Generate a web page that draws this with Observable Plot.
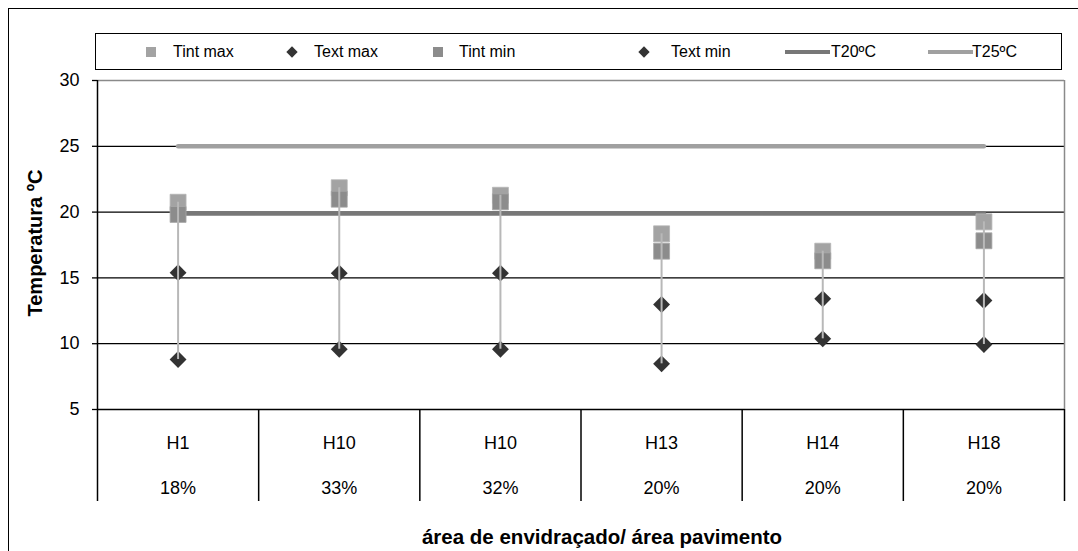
<!DOCTYPE html>
<html>
<head>
<meta charset="utf-8">
<script src="https://cdn.jsdelivr.net/npm/d3@7"></script>
<script src="https://cdn.jsdelivr.net/npm/@observablehq/plot@0.6"></script>
<style>
  html, body { margin: 0; padding: 0; background: #fff; overflow: hidden; }
  #wrap { position: relative; width: 1078px; height: 551px; overflow: hidden; font-family: "Liberation Sans", Arial, sans-serif; color: #000; }
  #wrap svg { position: absolute; left: 0; top: 0; }
  .outer { position: absolute; left: 8px; top: 8px; width: 1200px; height: 700px; border: 1.5px solid #000; box-sizing: border-box; }
  .legend { position: absolute; left: 95px; top: 33px; width: 967px; height: 37px; border: 1.5px solid #000; box-sizing: border-box; background: #fff; }
  .li { position: absolute; top: 0; height: 35px; display: flex; align-items: center; font-size: 16px; white-space: nowrap; }
  .sq { width: 10px; height: 10px; display: inline-block; }
  .dm { width: 8px; height: 8px; background: #333; transform: rotate(45deg); display: inline-block; }
  .ln { width: 45px; height: 4px; display: inline-block; }
  .ylab { position: absolute; left: 35px; top: 243px; transform: translate(-50%, -50%) rotate(-90deg); font-weight: bold; font-size: 20px; white-space: nowrap; }
  .xlab { position: absolute; left: 602px; top: 537px; transform: translate(-50%, -50%); font-weight: bold; font-size: 20.5px; white-space: nowrap; }
</style>
</head>
<body>
<div id="wrap">
  <div class="outer"></div>
</div>
<script>
// ---- data ----
const categories = ["H1", "H10", "H10", "H13", "H14", "H18"];
const ratios = ["18%", "33%", "32%", "20%", "20%", "20%"];
const tintMax = [20.75, 21.85, 21.28, 18.35, 17.03, 19.26];
const tintMin = [19.82, 20.98, 20.78, 17.03, 16.3, 17.82];
const textMax = [15.4, 15.36, 15.36, 12.98, 13.41, 13.28];
const textMin = [8.8, 9.58, 9.58, 8.47, 10.37, 9.94];
const t20 = [19.9, 19.9, 19.9, 19.9, 19.9, 19.9];
const t25 = [25, 25, 25, 25, 25, 25];
const yTicks = [5, 10, 15, 20, 25, 30];
const gridValues = [10, 15, 20, 25];

const seriesColors = { "Tint max": "#a3a3a3", "Text max": "#333333", "Tint min": "#8c8c8c", "Text min": "#333333", "T20ºC": "#777777", "T25ºC": "#a0a0a0" };

const rows = categories.map((c, i) => ({
  pos: i + 0.5, cat: c, ratio: ratios[i],
  tintMax: tintMax[i], tintMin: tintMin[i], textMax: textMax[i], textMin: textMin[i],
  t20: t20[i], t25: t25[i]
}));
const boundaries = d3.range(categories.length + 1);

const chart = Plot.plot({
  width: 1078,
  height: 551,
  marginLeft: 97,
  marginRight: 14,
  marginTop: 80,
  marginBottom: 142,
  style: { fontFamily: "'Liberation Sans', Arial, sans-serif", fontSize: "18px", background: "transparent", color: "#000" },
  x: { type: "linear", domain: [0, categories.length] },
  y: { domain: [5, 30] },
  marks: [
    Plot.ruleY(gridValues, { stroke: "#000", strokeWidth: 1.3 }),
    Plot.ruleY([30], { stroke: "#8a8a8a", strokeWidth: 1.5 }),
    Plot.ruleX([categories.length], { stroke: "#8a8a8a", strokeWidth: 1.5 }),
    Plot.axisY({ ticks: yTicks, tickSize: 5, tickPadding: 13, stroke: "#000", strokeWidth: 1.3, label: null, fontSize: 18 }),
    Plot.ruleX([0], { stroke: "#000", strokeWidth: 1.5 }),
    Plot.axisX({ ticks: boundaries, tickSize: 92, tickFormat: () => "", stroke: "#000", strokeWidth: 1.5, label: null }),
    Plot.axisX({ ticks: rows.map(d => d.pos), tickSize: 0, tickPadding: 27, tickFormat: (d) => categories[Math.floor(d)], label: null, fontSize: 18 }),
    Plot.axisX({ ticks: rows.map(d => d.pos), tickSize: 0, tickPadding: 72, tickFormat: (d) => ratios[Math.floor(d)], label: null, fontSize: 18 }),
    Plot.ruleY([5], { stroke: "#000", strokeWidth: 1.5 }),
    Plot.line(rows, { x: "pos", y: "t25", stroke: seriesColors["T25ºC"], strokeWidth: 4.5 }),
    Plot.line(rows, { x: "pos", y: "t20", stroke: seriesColors["T20ºC"], strokeWidth: 4.5 }),
    Plot.dot(rows, { x: "pos", y: "tintMax", symbol: "square", r: 9, fill: seriesColors["Tint max"], stroke: "#b5b5b5", strokeWidth: 0.8 }),
    Plot.dot(rows, { x: "pos", y: "tintMin", symbol: "square", r: 9, fill: seriesColors["Tint min"], stroke: "#a8a8a8", strokeWidth: 0.8 }),
    Plot.dot(rows, { x: "pos", y: "textMax", symbol: "diamond2", r: 7.6, fill: seriesColors["Text max"] }),
    Plot.dot(rows, { x: "pos", y: "textMin", symbol: "diamond2", r: 7.6, fill: seriesColors["Text min"] }),
    Plot.ruleX(rows, { x: "pos", y1: "textMin", y2: "tintMax", stroke: "#b8b8b8", strokeWidth: 2 })
  ]
});

const wrap = document.getElementById("wrap");
wrap.appendChild(chart);

// legend
const legend = document.createElement("div");
legend.className = "legend";
const items = [
  { name: "Tint max", type: "sq", left: 50, textLeft: 77 },
  { name: "Text max", type: "dm", left: 192, textLeft: 218 },
  { name: "Tint min", type: "sq", left: 337, textLeft: 363 },
  { name: "Text min", type: "dm", left: 544, textLeft: 575 },
  { name: "T20ºC", type: "ln", left: 689, textLeft: 735 },
  { name: "T25ºC", type: "ln", left: 832, textLeft: 876 }
];
for (const it of items) {
  const sym = document.createElement("div");
  sym.className = "li";
  sym.style.left = it.left + "px";
  const s = document.createElement("span");
  s.className = it.type;
  s.style.background = seriesColors[it.name];
  sym.appendChild(s);
  legend.appendChild(sym);
  const t = document.createElement("div");
  t.className = "li";
  t.style.left = it.textLeft + "px";
  t.textContent = it.name;
  legend.appendChild(t);
}
wrap.appendChild(legend);

const ylab = document.createElement("div");
ylab.className = "ylab";
ylab.textContent = "Temperatura ºC";
wrap.appendChild(ylab);

const xlab = document.createElement("div");
xlab.className = "xlab";
xlab.textContent = "área de envidraçado/ área pavimento";
wrap.appendChild(xlab);
</script>
</body>
</html>
